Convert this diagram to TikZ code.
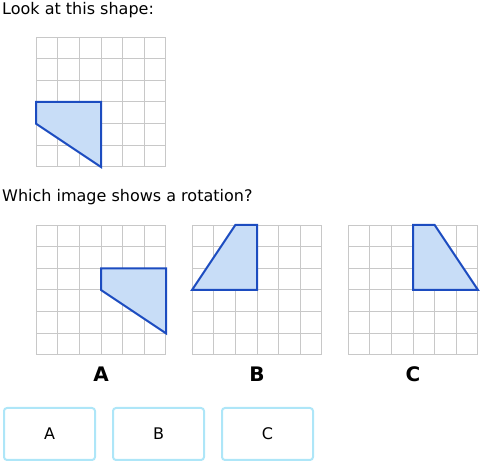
\documentclass[tikz,border=0pt]{standalone}
\usepackage{fontspec}
\setmainfont{DejaVu Sans}
\usepackage{xcolor}
\definecolor{gridgray}{HTML}{C8C8C8}
\definecolor{shapefill}{HTML}{C8DDF7}
\definecolor{shapeedge}{HTML}{1C4CC0}
\definecolor{btnedge}{HTML}{AEE6F8}

\begin{document}
\begin{tikzpicture}[x=1pt,y=-1pt,
	gridline/.style={gridgray,line width=1pt},
	piece/.style={fill=shapefill,draw=shapeedge,line width=2pt,line join=miter},
	question/.style={font=\fontsize{16}{19}\selectfont,anchor=base west,inner sep=0pt},
	letter/.style={font=\fontsize{20}{24}\selectfont\bfseries,anchor=base,inner sep=0pt},
	choice/.style={draw=btnedge,line width=2pt,rounded corners=3pt,minimum width=91pt,minimum height=52pt,font=\fontsize{16}{19}\selectfont}]
	\useasboundingbox (0,0) rectangle (480,462);

	\node[question] (ask) at (2,14.5) {Look at this shape:};
	\begin{scope}[shift={(36,167)},x=21.667pt,y=21.667pt]
		\draw[gridline,step=1] (0,0) grid (6,6);
		\draw[piece] (0,3)--(3,3)--(3,0)--(0,2)--cycle;
	\end{scope}

	\node[question] (which) at (2,202) {Which image shows a rotation?};
	\begin{scope}[shift={(36,355)},x=21.667pt,y=21.667pt]
		\draw[gridline,step=1] (0,0) grid (6,6);
		\draw[piece] (3,4)--(6,4)--(6,1)--(3,3)--cycle;
	\end{scope}
	\begin{scope}[shift={(192,355)},x=21.667pt,y=21.667pt]
		\draw[gridline,step=1] (0,0) grid (6,6);
		\draw[piece] (0,3)--(2,6)--(3,6)--(3,3)--cycle;
	\end{scope}
	\begin{scope}[shift={(348,355)},x=21.667pt,y=21.667pt]
		\draw[gridline,step=1] (0,0) grid (6,6);
		\draw[piece] (3,3)--(3,6)--(4,6)--(6,3)--cycle;
	\end{scope}

	\node[letter] (labA) at (101,381.5) {A};
	\node[letter] (labB) at (257,381.5) {B};
	\node[letter] (labC) at (413,381.5) {C};

	\node[choice] (optA) at (49.5,434) {A};
	\node[choice] (optB) at (158.5,434) {B};
	\node[choice] (optC) at (267.5,434) {C};
\end{tikzpicture}
\end{document}
